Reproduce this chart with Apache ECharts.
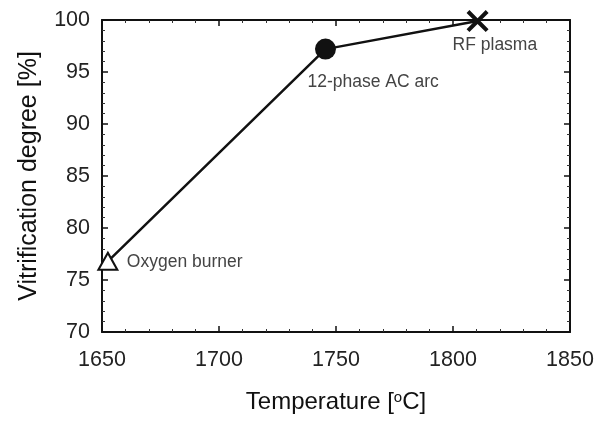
<!DOCTYPE html>
<html>
<head>
<meta charset="utf-8">
<script src="https://cdn.jsdelivr.net/npm/echarts@6/dist/echarts.min.js"></script>
<style>
  html, body { margin: 0; padding: 0; background: #fff; }
  #chart { width: 607px; height: 423px; }
</style>
</head>
<body>
<div id="chart"></div>
<script>
// process data
const methods = ["Oxygen burner", "12-phase AC arc", "RF plasma"]
const temperatures = [1652.5, 1745.5, 1810.5]
const vitrification = [76.8, 97.2, 99.9]

const FONT = "'Liberation Sans', Arial, sans-serif"

// marker + label look per method
const MARKERS = {
  "Oxygen burner": {
    symbol: "triangle", size: [19, 17],
    itemStyle: { color: "#fff", borderColor: "#111", borderWidth: 2 },
    offset: [19, 1],
  },
  "12-phase AC arc": {
    symbol: "circle", size: 21,
    itemStyle: { color: "#111", borderColor: "#111", borderWidth: 0 },
    offset: [-18, 33],
  },
  "RF plasma": {
    symbol: "path://M0,1.3 L1.3,0 L5,3.7 L8.7,0 L10,1.3 L6.3,5 L10,8.7 L8.7,10 L5,6.3 L1.3,10 L0,8.7 L3.7,5 Z",
    size: 22,
    itemStyle: { color: "#111", borderWidth: 0 },
    offset: [-25, 24],
  },
}

const seriesData = methods.map((m, i) => {
  const mk = MARKERS[m]
  return {
    value: [temperatures[i], vitrification[i]],
    name: m,
    symbol: mk.symbol,
    symbolSize: mk.size,
    itemStyle: mk.itemStyle,
    label: {
      show: true,
      position: "inside",
      align: "left",
      verticalAlign: "middle",
      offset: mk.offset,
      formatter: m,
      color: "#444",
      fontSize: 17.5,
      fontFamily: FONT,
    },
  }
})

const axisLine = { show: true, onZero: false, lineStyle: { color: "#111", width: 2 } }
const axisTick = { show: true, inside: true, length: 6, lineStyle: { color: "#111", width: 1.5 } }
const minorTick = { show: true, splitNumber: 5, length: 3, lineStyle: { color: "#333", width: 1 } }

const chart = echarts.init(document.getElementById("chart"), null, { renderer: "canvas" })

chart.setOption({
  animation: false,
  backgroundColor: "#fff",
  grid: { left: 102, top: 20, right: 37, bottom: 91, containLabel: false },
  xAxis: [
    {
      type: "value", min: 1650, max: 1850, interval: 50, position: "bottom",
      axisLine, axisTick, minorTick,
      splitLine: { show: false },
      axisLabel: { margin: 17, color: "#222", fontSize: 21.5, fontFamily: FONT, formatter: (v) => String(v) },
      name: "Temperature [{sup|o}C]",
      nameLocation: "middle",
      nameGap: 58,
      nameTextStyle: {
        color: "#111", fontSize: 24, fontFamily: FONT,
        rich: { sup: { fontSize: 15, verticalAlign: "top", padding: [0, 0, 10, 0], color: "#111", fontFamily: FONT } },
      },
    },
    {
      type: "value", min: 1650, max: 1850, interval: 50, position: "top",
      axisLine, axisTick, minorTick,
      splitLine: { show: false },
      axisLabel: { show: false },
    },
  ],
  yAxis: [
    {
      type: "value", min: 70, max: 100, interval: 5, position: "left",
      axisLine, axisTick, minorTick,
      splitLine: { show: false },
      axisLabel: { margin: 12, color: "#222", fontSize: 21.5, fontFamily: FONT },
      name: "Vitrification degree [%]",
      nameLocation: "middle",
      nameGap: 60,
      nameTextStyle: { color: "#111", fontSize: 25, fontFamily: FONT },
    },
    {
      type: "value", min: 70, max: 100, interval: 5, position: "right",
      axisLine, axisTick, minorTick,
      splitLine: { show: false },
      axisLabel: { show: false },
    },
  ],
  series: [
    {
      type: "line",
      xAxisIndex: 0,
      yAxisIndex: 0,
      data: seriesData,
      lineStyle: { color: "#111", width: 2.5 },
      z: 3,
    },
  ],
})
</script>
</body>
</html>
